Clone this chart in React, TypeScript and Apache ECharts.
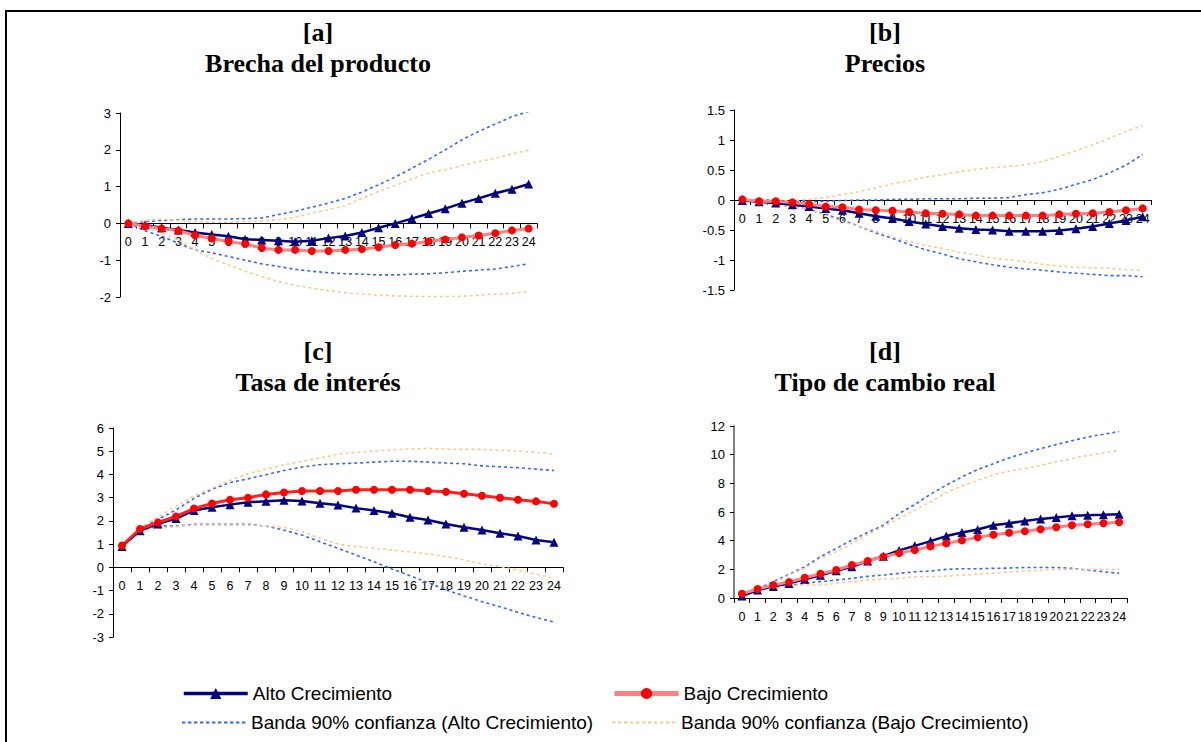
import React, { useEffect, useRef } from 'react';
import * as echarts from 'echarts';

const periods = ['0','1','2','3','4','5','6','7','8','9','10','11','12','13','14','15','16','17','18','19','20','21','22','23','24'];

// [a] Brecha del producto
const aAlto = [0,-0.04,-0.12,-0.18,-0.25,-0.3,-0.35,-0.43,-0.45,-0.47,-0.5,-0.47,-0.4,-0.34,-0.25,-0.12,0,0.13,0.27,0.4,0.55,0.68,0.82,0.93,1.07];
const aBajo = [0,-0.08,-0.14,-0.2,-0.32,-0.41,-0.49,-0.56,-0.67,-0.72,-0.72,-0.75,-0.75,-0.72,-0.7,-0.65,-0.59,-0.55,-0.49,-0.44,-0.38,-0.33,-0.27,-0.19,-0.14];
const aAltoUp = [0,0.05,0.08,0.1,0.12,0.12,0.12,0.13,0.15,0.24,0.33,0.44,0.55,0.68,0.85,1.05,1.26,1.5,1.74,2.0,2.27,2.5,2.7,2.9,3.04];
const aAltoLo = [0,-0.2,-0.35,-0.54,-0.72,-0.8,-0.9,-1.0,-1.1,-1.17,-1.25,-1.3,-1.34,-1.37,-1.38,-1.4,-1.4,-1.38,-1.37,-1.34,-1.3,-1.27,-1.24,-1.17,-1.1];
const aBajoUp = [0,0.08,0.12,0.08,0.05,0.03,0.03,0.05,0.07,0.1,0.17,0.28,0.37,0.48,0.68,0.87,1.03,1.21,1.37,1.46,1.57,1.68,1.77,1.89,1.99];
const aBajoLo = [0,-0.13,-0.26,-0.45,-0.72,-0.95,-1.13,-1.3,-1.45,-1.58,-1.68,-1.76,-1.83,-1.88,-1.92,-1.95,-1.97,-1.98,-1.99,-1.99,-1.98,-1.95,-1.92,-1.9,-1.85];

// [b] Precios
const bAlto = [-0.01,-0.03,-0.05,-0.08,-0.11,-0.14,-0.17,-0.22,-0.27,-0.31,-0.36,-0.4,-0.44,-0.47,-0.49,-0.5,-0.52,-0.52,-0.52,-0.51,-0.48,-0.44,-0.39,-0.34,-0.28];
const bBajo = [0.01,-0.02,-0.02,-0.04,-0.07,-0.11,-0.12,-0.16,-0.17,-0.18,-0.2,-0.22,-0.23,-0.24,-0.26,-0.26,-0.26,-0.26,-0.26,-0.24,-0.23,-0.22,-0.2,-0.17,-0.14];
const bAltoUp = [0,0.01,-0.01,-0.03,-0.03,-0.02,-0.01,0,0,0.01,0.01,0.02,0.02,0.02,0.03,0.03,0.04,0.09,0.12,0.18,0.26,0.34,0.45,0.58,0.76];
const bAltoLo = [0,-0.03,-0.07,-0.11,-0.16,-0.24,-0.33,-0.44,-0.55,-0.64,-0.74,-0.83,-0.9,-0.98,-1.03,-1.08,-1.12,-1.15,-1.17,-1.2,-1.22,-1.24,-1.26,-1.26,-1.28];
const bBajoUp = [0,-0.02,-0.02,-0.01,0.01,0.04,0.09,0.14,0.2,0.27,0.32,0.38,0.42,0.47,0.51,0.54,0.56,0.59,0.64,0.73,0.82,0.92,1.03,1.14,1.24];
const bBajoLo = [0,-0.04,-0.08,-0.11,-0.16,-0.26,-0.36,-0.44,-0.52,-0.61,-0.69,-0.76,-0.81,-0.87,-0.92,-0.97,-1.0,-1.03,-1.07,-1.1,-1.12,-1.13,-1.14,-1.16,-1.17];

// [c] Tasa de interés
const cAlto = [0.9,1.58,1.87,2.1,2.45,2.59,2.7,2.8,2.85,2.89,2.86,2.76,2.68,2.55,2.45,2.33,2.16,2.04,1.87,1.73,1.61,1.47,1.35,1.18,1.08];
const cBajo = [0.94,1.65,1.93,2.19,2.53,2.75,2.91,3.0,3.14,3.22,3.29,3.29,3.29,3.34,3.34,3.34,3.34,3.29,3.25,3.17,3.08,3.0,2.91,2.84,2.74];
const cAltoUp = [0.94,1.65,2.07,2.47,2.97,3.36,3.65,3.81,3.99,4.17,4.32,4.42,4.46,4.49,4.53,4.57,4.57,4.53,4.49,4.46,4.37,4.33,4.29,4.23,4.17];
const cAltoLo = [0.94,1.6,1.78,1.78,1.85,1.85,1.85,1.85,1.78,1.6,1.39,1.1,0.82,0.53,0.24,-0.07,-0.36,-0.66,-0.97,-1.23,-1.48,-1.7,-1.94,-2.16,-2.36];
const cBajoUp = [0.94,1.68,2.19,2.62,3.08,3.41,3.74,4.03,4.23,4.42,4.56,4.71,4.87,4.95,5.01,5.06,5.09,5.12,5.09,5.08,5.08,5.04,5.0,4.95,4.88];
const cBajoLo = [0.94,1.6,1.68,1.75,1.82,1.82,1.82,1.82,1.78,1.73,1.54,1.25,1.0,0.89,0.82,0.75,0.66,0.58,0.46,0.32,0.14,0.03,-0.12,-0.29,-0.47];

// [d] Tipo de cambio real
const dAlto = [0.14,0.56,0.81,1.02,1.3,1.58,1.9,2.18,2.58,2.92,3.32,3.64,3.97,4.32,4.57,4.78,5.08,5.22,5.38,5.52,5.61,5.73,5.78,5.8,5.85];
const dBajo = [0.3,0.63,0.9,1.11,1.41,1.69,1.95,2.3,2.58,2.88,3.13,3.34,3.6,3.81,4.02,4.23,4.41,4.55,4.66,4.8,4.94,5.08,5.15,5.22,5.29];
const dAltoUp = [0.14,0.63,1.14,1.65,2.18,2.88,3.46,4.04,4.57,5.08,5.89,6.52,7.24,7.87,8.45,8.96,9.37,9.77,10.12,10.42,10.7,10.97,11.23,11.42,11.62];
const dAltoLo = [0.14,0.56,0.79,0.9,1.02,1.14,1.25,1.37,1.51,1.6,1.72,1.83,1.88,2.0,2.04,2.04,2.07,2.09,2.13,2.13,2.13,2.07,1.95,1.83,1.72];
const dBajoUp = [0.14,0.56,1.02,1.6,2.07,2.76,3.23,3.81,4.43,4.97,5.55,6.13,6.71,7.36,7.82,8.21,8.61,8.84,9.03,9.26,9.49,9.72,9.95,10.12,10.3];
const dBajoLo = [0.14,0.56,0.67,0.86,0.9,0.9,1.02,1.14,1.25,1.32,1.37,1.48,1.48,1.53,1.6,1.67,1.74,1.83,1.88,1.93,2.0,2.0,2.0,2.0,2.0];

const panelTitles = ['[a]\nBrecha del producto', '[b]\nPrecios', '[c]\nTasa de interés', '[d]\nTipo de cambio real'];
const yMins = [-2, -1.5, -3, 0];
const yMaxs = [3, 1.5, 6, 12];
const yIntervals = [1, 0.5, 1, 2];

const nameAlto = 'Alto Crecimiento';
const nameBajo = 'Bajo Crecimiento';
const nameBandAlto = 'Banda 90% confianza (Alto Crecimiento)';
const nameBandBajo = 'Banda 90% confianza (Bajo Crecimiento)';

const NAVY = '#000080';
const PINK = '#FF8080';
const RED = '#FF0000';
const BLUE = '#3366FF';
const PEACH = '#FFC890';
const FONT = 'Liberation Sans, Arial, sans-serif';
const SERIF = 'Liberation Serif, Times New Roman, serif';

// dashed-line legend icon (bounding box 64 x 14, dashes centred vertically)
function dashIcon(): string {
  let d = 'path://M0,0L0.01,0Z M0,14L0.01,14Z';
  for (let x = 0; x < 64; x += 6) {
    d += ` M${x},6.1h3.4v1.8h-3.4Z`;
  }
  d += ' M63.99,14L64,14Z';
  return d;
}

export default function App() {
  const ref = useRef<HTMLDivElement>(null);

  useEffect(() => {
    if (!ref.current) return;
    const chart = echarts.init(ref.current, null, { renderer: 'svg' });

    const grids = [
      { left: 120, top: 113, width: 417, height: 184 },
      { left: 734, top: 110, width: 417, height: 180 },
      { left: 113, top: 428, width: 450, height: 209 },
      { left: 734, top: 426, width: 393, height: 172 },
    ];
    const titlePos = [
      { left: 313, top: 12 },
      { left: 880, top: 12 },
      { left: 313, top: 331 },
      { left: 880, top: 331 },
    ];
    const panels = [
      [aAltoUp, aAltoLo, aBajoUp, aBajoLo, aAlto, aBajo],
      [bAltoUp, bAltoLo, bBajoUp, bBajoLo, bAlto, bBajo],
      [cAltoUp, cAltoLo, cBajoUp, cBajoLo, cAlto, cBajo],
      [dAltoUp, dAltoLo, dBajoUp, dBajoLo, dAlto, dBajo],
    ];

    const series: any[] = [];
    panels.forEach((p, i) => {
      const band = (name: string, data: number[], color: string) => ({
        type: 'line', name, data, xAxisIndex: i, yAxisIndex: i,
        symbol: 'none', silent: true,
        lineStyle: { color, width: 1.6, type: [3, 3] },
        itemStyle: { color },
        z: 2,
      });
      series.push(band(nameBandAlto, p[0], BLUE));
      series.push(band(nameBandAlto, p[1], BLUE));
      series.push(band(nameBandBajo, p[2], PEACH));
      series.push(band(nameBandBajo, p[3], PEACH));
      series.push({
        type: 'line', name: nameAlto, data: p[4], xAxisIndex: i, yAxisIndex: i,
        symbol: 'triangle', symbolSize: 9,
        lineStyle: { color: NAVY, width: 2.5 },
        itemStyle: { color: NAVY },
        z: 3,
      });
      series.push({
        type: 'line', name: nameBajo, data: p[5], xAxisIndex: i, yAxisIndex: i,
        symbol: 'circle', symbolSize: 8,
        lineStyle: { color: i === 2 ? '#FF2020' : PINK, width: 3 },
        itemStyle: { color: RED },
        z: 4,
      });
    });

    const legendBase = {
      itemWidth: 64,
      itemHeight: 14,
      padding: 0,
      selectedMode: false,
      textStyle: { fontSize: 19, fontFamily: FONT, color: '#000' },
    };

    chart.setOption({
      animation: false,
      backgroundColor: '#ffffff',
      title: panelTitles.map((t, i) => ({
        text: t,
        left: titlePos[i].left,
        top: titlePos[i].top,
        textAlign: 'center',
        textStyle: { fontFamily: SERIF, fontWeight: 'bold', fontSize: 26, lineHeight: 31, color: '#000' },
      })),
      legend: [
        { ...legendBase, data: [{ name: nameAlto, lineStyle: { width: 3.5 } }], left: 182, top: 684 },
        { ...legendBase, data: [{ name: nameBajo, lineStyle: { width: 5 } }], left: 612, top: 684 },
        { ...legendBase, data: [{ name: nameBandAlto, icon: dashIcon(), itemStyle: { color: BLUE } }], left: 182, top: 713 },
        { ...legendBase, data: [{ name: nameBandBajo, icon: dashIcon(), itemStyle: { color: PEACH } }], left: 612, top: 713 },
      ],
      grid: grids.map((g) => ({ ...g, containLabel: false })),
      xAxis: grids.map((g, i) => ({
        type: 'category',
        gridIndex: i,
        data: periods,
        boundaryGap: true,
        position: 'bottom',
        offset: -g.height * (0 - yMins[i]) / (yMaxs[i] - yMins[i]),
        axisLine: { onZero: false, lineStyle: { color: '#000', width: 1 } },
        axisTick: { show: true, interval: 0, alignWithLabel: false, length: 5, lineStyle: { color: '#000' } },
        axisLabel: { interval: 0, fontSize: 12.5, fontFamily: FONT, color: '#000', margin: 12, hideOverlap: false },
        splitLine: { show: false },
      })),
      yAxis: grids.map((_, i) => ({
        type: 'value',
        gridIndex: i,
        min: yMins[i],
        max: yMaxs[i],
        interval: yIntervals[i],
        axisLine: { show: true, lineStyle: { color: i === 3 ? '#808080' : '#000', width: i === 3 ? 2 : 1 } },
        axisTick: { show: true, length: 4, lineStyle: { color: '#000' } },
        axisLabel: { fontSize: 13, fontFamily: FONT, color: '#000', margin: 9 },
        splitLine: { show: false },
      })),
      graphic: [
        { type: 'line', shape: { x1: 5, y1: 11, x2: 1201, y2: 11 }, style: { stroke: '#000', lineWidth: 2 }, silent: true },
        { type: 'line', shape: { x1: 6, y1: 11, x2: 6, y2: 742 }, style: { stroke: '#000', lineWidth: 2 }, silent: true },
      ],
      series,
    });

    return () => chart.dispose();
  }, []);

  return (
    <div
      ref={ref}
      style={{ position: 'fixed', left: 0, top: 0, width: 1201, height: 742, background: '#fff' }}
    />
  );
}
